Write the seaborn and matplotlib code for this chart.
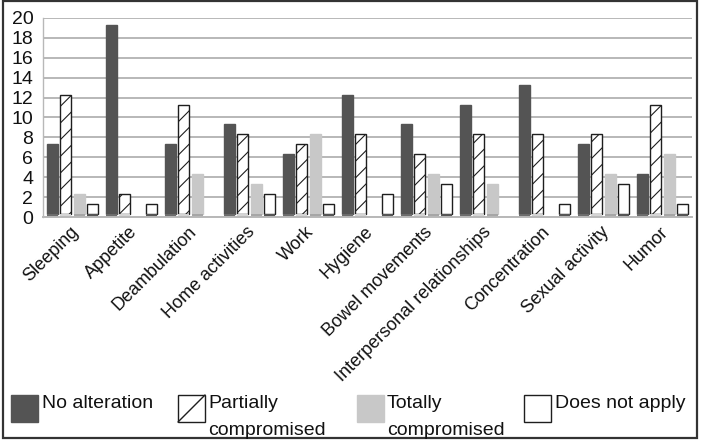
import matplotlib
matplotlib.use("Agg")
import matplotlib.pyplot as plt
import seaborn as sns
import pandas as pd
from matplotlib.patches import Rectangle
from matplotlib.lines import Line2D
from matplotlib.transforms import ScaledTranslation

categories = ["Sleeping", "Appetite", "Deambulation", "Home activities", "Work",
              "Hygiene", "Bowel movements", "Interpersonal relationships",
              "Concentration", "Sexual activity", "Humor"]
series = ["No alteration", "Partially\ncompromised", "Totally\ncompromised", "Does not apply"]
no_alteration = [7, 19, 7, 9, 6, 12, 9, 11, 13, 7, 4]
partially = [12, 2, 11, 8, 7, 8, 6, 8, 8, 8, 11]
totally = [2, 0, 4, 3, 8, 0, 4, 3, 0, 4, 6]
does_not_apply = [1, 1, 0, 2, 1, 2, 3, 0, 1, 3, 1]
y_ticks = [0, 2, 4, 6, 8, 10, 12, 14, 16, 18, 20]

FLOOR = 0.3
face_colors = ["#545454", "#ffffff", "#c8c8c8", "#ffffff"]
edge_colors = ["#545454", "#1e1e1e", "#c8c8c8", "#1e1e1e"]
floor_colors = ["#6c6c6c", "#d4d4d4", "#a6a6a6", "#555555"]
hatches = ["", "//", "", ""]

rows = []
for s, vals in zip(series, [no_alteration, partially, totally, does_not_apply]):
    for c, v in zip(categories, vals):
        rows.append({"cat": c, "series": s, "value": v,
                     "floor": FLOOR if v > 0 else 0.0})
df = pd.DataFrame(rows)

sns.set_theme(style="white")
plt.rcParams["font.family"] = ["Liberation Sans", "DejaVu Sans"]
plt.rcParams["hatch.linewidth"] = 0.8
plt.rcParams["hatch.color"] = "#1e1e1e"

W, H = 701, 444
fig = plt.figure(figsize=(W / 100, H / 100), dpi=100)
ax = fig.add_axes([43 / W, 1 - 217 / H, 649 / W, 199 / H])

n = len(categories)
sns.barplot(data=df, x="cat", y="value", hue="series", order=categories,
            hue_order=series, palette=face_colors, width=0.9, gap=0.17,
            bottom=FLOOR, ax=ax, legend=False, saturation=1, linewidth=1.0)
for i, bar in enumerate(ax.patches):
    k = i // n
    bar.set_facecolor(face_colors[k])
    bar.set_edgecolor(edge_colors[k])
    bar.set_hatch(hatches[k])
    if df["value"].iloc[i] == 0:
        bar.set_visible(False)
sns.barplot(data=df, x="cat", y="floor", hue="series", order=categories,
            hue_order=series, palette=floor_colors, width=0.9, gap=0.17,
            ax=ax, legend=False, saturation=1, linewidth=0)

ax.set_ylim(0, 20)
ax.set_xlim(-0.5, n - 0.5)
ax.set_yticks(y_ticks)
ax.set_yticklabels([str(t) for t in y_ticks], fontsize=14)
ax.yaxis.grid(True, color="#b8b8b8", linewidth=1.4)
ax.set_axisbelow(True)
for sp in ["top", "right"]:
    ax.spines[sp].set_visible(False)
ax.spines["left"].set_color("#b8b8b8")
ax.spines["left"].set_linewidth(1.0)
ax.spines["bottom"].set_color("#b8b8b8")
ax.spines["bottom"].set_linewidth(1.4)
ax.set_xlabel("")
ax.set_ylabel("")
ax.tick_params(axis="y", length=0, pad=7, colors="#111111")
ax.tick_params(axis="x", length=0, pad=9)
ax.set_xticks(range(n))
ax.set_xticklabels(categories, rotation=45, ha="right", va="center",
                   rotation_mode="anchor", fontsize=13, color="#111111")
shift = ScaledTranslation(3 / 100, 0, fig.dpi_scale_trans)
for lab in ax.get_xticklabels():
    lab.set_transform(lab.get_transform() + shift)

# legend drawn in figure pixel coordinates
def px(x, y):
    return x / W, 1 - y / H

handle_x = [11, 178, 357, 524]
text_x = [42, 208, 387, 555]
sq = 27
for k in range(4):
    x0, y0 = px(handle_x[k], 422)
    fc = face_colors[k]
    ec = face_colors[k] if k in (0, 2) else "#1e1e1e"
    fig.patches.append(Rectangle((x0, y0), sq / W, sq / H, transform=fig.transFigure,
                                 facecolor=fc, edgecolor=ec, linewidth=1.0))
    if hatches[k]:
        xa, ya = px(handle_x[k], 422)
        xb, yb = px(handle_x[k] + sq, 395)
        fig.lines.append(Line2D([xa, xb], [ya, yb], transform=fig.transFigure,
                                color="#1e1e1e", linewidth=1.0))
    for j, line in enumerate(series[k].split("\n")):
        tx, ty = px(text_x[k], 408 + 27 * j)
        fig.text(tx, ty, line, fontsize=14, va="baseline", ha="left", color="#111111")

fig.patches.append(Rectangle(px(3, 438), 694 / W, 437 / H, transform=fig.transFigure,
                             fill=False, edgecolor="#333333", linewidth=1.6))
fig.savefig("out.png", dpi=100)
